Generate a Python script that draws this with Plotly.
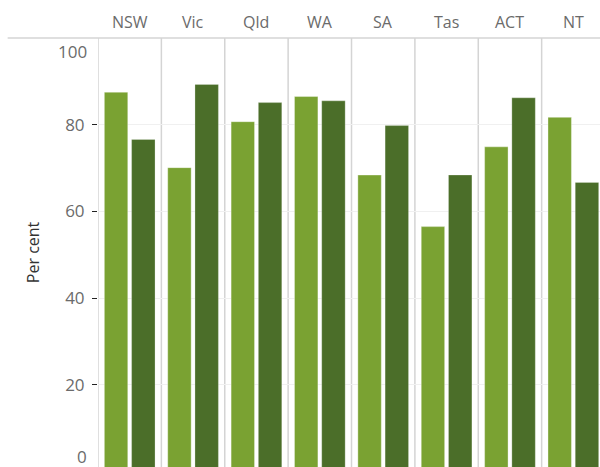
import plotly.graph_objects as go

states = ["NSW", "Vic", "Qld", "WA", "SA", "Tas", "ACT", "NT"]
series_a = [87.5, 70.1, 80.7, 86.5, 68.4, 56.5, 74.9, 81.7]
series_b = [76.6, 89.3, 85.1, 85.5, 79.8, 68.4, 86.2, 66.7]
y_ticks = [20, 40, 60, 80]
edge_labels = ["100", "0"]

LIGHT = "#7aa232"
DARK = "#4b6e29"
GREY_TXT = "#6b6b6b"
FONT = "Open Sans"

fig = go.Figure()
fig.add_trace(go.Bar(x=states, y=series_a, name="Group 1",
                     marker=dict(color=LIGHT, line=dict(color="rgba(255,255,255,0.35)", width=1))))
fig.add_trace(go.Bar(x=states, y=series_b, name="Group 2",
                     marker=dict(color=DARK, line=dict(color="rgba(255,255,255,0.25)", width=1))))

W, H = 600, 467
L, T = 98.3, 38.3
colw = 63.34
plot_w = W - L
plot_h = H - T
xmax = -0.5 + plot_w / colw
px_per_unit = 4.333
ymin = 100 - plot_h / px_per_unit

shapes = []
for i in range(len(states)):
    shapes.append(dict(type="line", xref="x", yref="paper", x0=-0.5 + i, x1=-0.5 + i,
                       y0=0, y1=1, line=dict(color="#d4d4d4", width=1.5), layer="below"))
shapes.append(dict(type="line", xref="paper", yref="paper", x0=(8 - L) / plot_w, x1=1,
                   y0=1, y1=1, line=dict(color="#d4d4d4", width=1.5), layer="above"))

annotations = []
for s in states:
    annotations.append(dict(x=s, xref="x", y=1, yref="paper", text=s, showarrow=False,
                            yanchor="middle", yshift=16, font=dict(size=16, color=GREY_TXT, family=FONT)))
# edge labels of the value axis are nudged inward (as in the original)
for lab, ypx in zip(edge_labels, [52, 456.7]):
    annotations.append(dict(x=0, xref="paper", y=(H - ypx) / plot_h, yref="paper", text=lab,
                            showarrow=False, xanchor="right", yanchor="middle", xshift=-9,
                            font=dict(size=17, color=GREY_TXT, family=FONT)))
annotations.append(dict(x=(33 - L) / plot_w, xref="paper", y=0.5, yref="paper", text="Per cent",
                        showarrow=False, textangle=-90, xanchor="center", yanchor="middle",
                        font=dict(size=16, color="#333333", family=FONT)))

fig.update_layout(
    width=W, height=H,
    margin=dict(l=L, r=0, t=T, b=0, autoexpand=False),
    paper_bgcolor="white", plot_bgcolor="white",
    barmode="group", bargap=0.14, bargroupgap=0.14,
    showlegend=False,
    shapes=shapes, annotations=annotations,
    font=dict(family=FONT),
)
fig.update_xaxes(type="category", range=[-0.5, xmax], showticklabels=False, showgrid=False,
                 zeroline=False, showline=False, ticks="")
fig.update_yaxes(range=[ymin, 100], tickvals=y_ticks, showgrid=True,
                 gridcolor="#f0f0f0", gridwidth=1, zeroline=False, showline=False,
                 ticks="outside", ticklen=5, tickcolor="#222222", tickwidth=1.2,
                 ticklabelstandoff=4, tickfont=dict(size=17, color=GREY_TXT, family=FONT))

fig.write_html("out.html", config={"displayModeBar": False}, post_script=(
    "document.body.style.margin='0';"
    "document.body.style.overflow='hidden';"
    "document.documentElement.style.overflow='hidden';"))
